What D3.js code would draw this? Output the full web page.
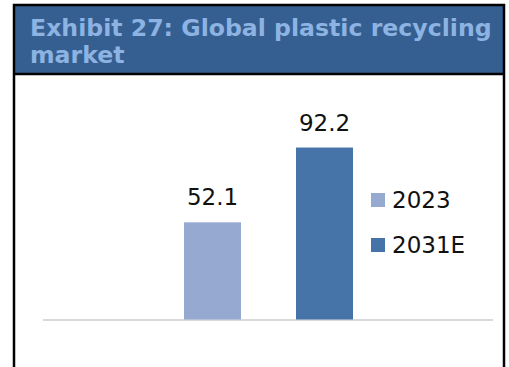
<!DOCTYPE html>
<html>
<head>
<meta charset="utf-8">
<script src="https://cdn.jsdelivr.net/npm/d3@7"></script>
<style>
  html, body { margin: 0; padding: 0; background: #fff; }
  svg { display: block; }
</style>
</head>
<body>
<svg id="chart" width="509" height="367"></svg>
<script>
const titleLines = ["Exhibit 27: Global plastic recycling", "market"];
const categories = ["2023", "2031E"];
const values = [52.1, 92.2];
const colors = ["#95A9D1", "#4674A8"];

const svg = d3.select("#chart");

// frame
svg.append("rect").attr("x", 15).attr("y", 5).attr("width", 489).attr("height", 68)
  .attr("fill", "#365F91");
svg.append("path")
  .attr("d", "M14,370 L14,5 L504,5 L504,370")
  .attr("fill", "none").attr("stroke", "#000").attr("stroke-width", 2.5);
svg.append("line").attr("x1", 14).attr("x2", 504).attr("y1", 74).attr("y2", 74)
  .attr("stroke", "#000").attr("stroke-width", 2.5);

const title = svg.append("text")
  .attr("font-family", "DejaVu Sans, Verdana, sans-serif")
  .attr("font-weight", "bold").attr("font-size", 23)
  .attr("fill", "#8DB3E2");
titleLines.forEach((t, i) => {
  title.append("tspan").attr("x", 30).attr("y", 36 + i * 27).text(t);
});
// stretch first line to the reference's width
const t0 = title.select("tspan").node();
const w0 = t0.getComputedTextLength();
if (Math.abs(w0 - 462) > 4) {
  title.attr("font-size", 23 * 462 / w0);
}

// scales
const y = d3.scaleLinear().domain([0, 100]).range([319.5, 133]);
const bw = 57;
const centers = [212.5, 324.5];
const xc = d3.scalePoint().domain(categories).range(centers);

// axis baseline
svg.append("line").attr("x1", 43).attr("x2", 493).attr("y1", 320).attr("y2", 320)
  .attr("stroke", "#D9D9D9").attr("stroke-width", 2);

svg.selectAll("rect.bar").data(categories).enter().append("rect")
  .attr("class", "bar")
  .attr("x", d => xc(d) - bw / 2)
  .attr("width", bw)
  .attr("y", (d, i) => y(values[i]))
  .attr("height", (d, i) => y(0) - y(values[i]))
  .attr("fill", (d, i) => colors[i]);

svg.selectAll("text.val").data(categories).enter().append("text")
  .attr("class", "val")
  .attr("x", d => xc(d))
  .attr("y", (d, i) => y(values[i]) - 17)
  .attr("text-anchor", "middle")
  .attr("font-family", "DejaVu Sans, Verdana, sans-serif")
  .attr("font-size", 23)
  .attr("fill", "#111")
  .text((d, i) => values[i].toFixed(1));

// legend
const leg = svg.selectAll("g.leg").data(categories).enter().append("g")
  .attr("class", "leg")
  .attr("transform", (d, i) => `translate(371, ${193 + i * 45})`);
leg.append("rect").attr("width", 14).attr("height", 14)
  .attr("fill", (d, i) => colors[i]);
leg.append("text").attr("x", 21).attr("y", 15)
  .attr("font-family", "DejaVu Sans, Verdana, sans-serif")
  .attr("font-size", 23).attr("fill", "#111")
  .text(d => d);
</script>
</body>
</html>
